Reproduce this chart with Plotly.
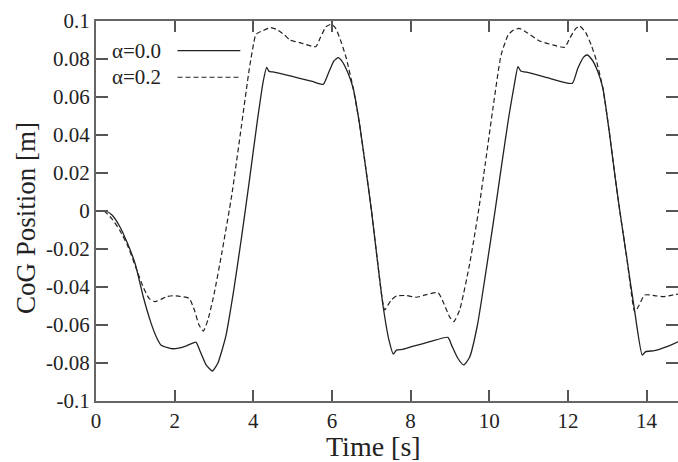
import plotly.graph_objects as go

# ---- data ----
t_a00 = [0, 0.25, 0.4, 0.6, 0.8, 1.0, 1.2, 1.4, 1.55, 1.65, 1.8, 1.95, 2.1, 2.3, 2.54,
         2.65, 2.8, 2.96, 3.1, 3.3, 3.5, 3.7, 3.9, 4.1, 4.25, 4.34, 4.4, 4.5, 4.8, 5.18,
         5.5, 5.78, 5.9, 6.05, 6.16, 6.25, 6.4, 6.54, 6.7, 6.85, 7.0, 7.15, 7.3, 7.45,
         7.56, 7.64, 7.8, 8.1, 8.49, 8.95, 9.05, 9.2, 9.35, 9.5, 9.7, 9.9, 10.14, 10.3,
         10.5, 10.65, 10.73, 10.8, 11.0, 11.54, 12.11, 12.25, 12.4, 12.49, 12.6, 12.75,
         12.89, 13.05, 13.2, 13.32, 13.5, 13.7, 13.89, 13.98, 14.2, 14.5, 14.8]
y_a00 = [0, 0, -0.002, -0.008, -0.017, -0.028, -0.045, -0.059, -0.067, -0.0705, -0.0718,
         -0.0725, -0.0722, -0.071, -0.069, -0.074, -0.081, -0.0842, -0.080, -0.066, -0.042,
         -0.014, 0.016, 0.047, 0.068, 0.0756, 0.0735, 0.0732, 0.0718, 0.0698, 0.0682,
         0.0667, 0.072, 0.079, 0.0807, 0.079, 0.073, 0.0646, 0.046, 0.024, 0.001, -0.025,
         -0.050, -0.068, -0.0753, -0.0732, -0.0728, -0.071, -0.0688, -0.0665, -0.071,
         -0.0775, -0.081, -0.077, -0.060, -0.034, -0.001, 0.022, 0.050, 0.068, 0.076,
         0.0737, 0.0728, 0.0698, 0.0672, 0.075, 0.081, 0.0821, 0.080, 0.074, 0.0646, 0.042,
         0.018, 0.0, -0.025, -0.053, -0.0758, -0.074, -0.0735, -0.0715, -0.0688]

t_a02 = [0, 0.2, 0.4, 0.6, 0.8, 1.0, 1.2, 1.35, 1.5, 1.65, 1.8, 1.97, 2.15, 2.37, 2.5,
         2.62, 2.73, 2.85, 3.0, 3.2, 3.45, 3.7, 3.9, 4.05, 4.1, 4.25, 4.44, 4.6, 4.8, 4.93,
         5.2, 5.59, 5.7, 5.85, 5.99, 6.1, 6.25, 6.37, 6.54, 6.7, 6.85, 7.0, 7.15, 7.34, 7.5,
         7.64, 7.9, 8.15, 8.4, 8.7, 8.85, 9.0, 9.1, 9.25, 9.5, 9.72, 9.9, 10.1, 10.3, 10.48,
         10.6, 10.76, 10.95, 11.28, 11.6, 11.92, 12.05, 12.2, 12.3, 12.45, 12.6, 12.72,
         12.89, 13.05, 13.2, 13.32, 13.5, 13.7, 13.8, 13.95, 14.2, 14.42, 14.6, 14.8]
y_a02 = [0, 0, -0.004, -0.010, -0.018, -0.029, -0.040, -0.046, -0.0477, -0.0465, -0.045,
         -0.0446, -0.045, -0.046, -0.052, -0.060, -0.0632, -0.057, -0.044, -0.022, 0.008,
         0.045, 0.075, 0.092, 0.0935, 0.095, 0.0965, 0.0955, 0.0925, 0.090, 0.0885, 0.0865,
         0.091, 0.097, 0.0983, 0.096, 0.088, 0.080, 0.0646, 0.046, 0.024, 0.001, -0.025,
         -0.052, -0.047, -0.0447, -0.0445, -0.0454, -0.044, -0.043, -0.049, -0.056, -0.0582,
         -0.052, -0.028, -0.001, 0.025, 0.055, 0.082, 0.0926, 0.095, 0.0961, 0.094, 0.0895,
         0.0875, 0.0862, 0.091, 0.096, 0.0974, 0.094, 0.087, 0.0795, 0.0646, 0.042, 0.018,
         0.0, -0.025, -0.053, -0.050, -0.0442, -0.0445, -0.0451, -0.0445, -0.0437]

series_names = ["α=0.0", "α=0.2"]
x_tick_vals = [0, 2, 4, 6, 8, 10, 12, 14]
y_tick_vals = [0.1, 0.08, 0.06, 0.04, 0.02, 0, -0.02, -0.04, -0.06, -0.08, -0.1]
y_tick_text = ["0.1", "0.08", "0.06", "0.04", "0.02", "0", "-0.02", "-0.04", "-0.06",
               "-0.08", "-0.1"]
x_title = "Time [s]"
y_title = "CoG Position [m]"

FONT = "Liberation Serif"
INK = "#222222"

fig = go.Figure()
fig.add_trace(go.Scatter(x=t_a00, y=y_a00, mode="lines", name=series_names[0],
                         line=dict(color=INK, width=1.3, shape="spline", smoothing=0.5),
                         showlegend=False))
fig.add_trace(go.Scatter(x=t_a02, y=y_a02, mode="lines", name=series_names[1],
                         line=dict(color=INK, width=1.2, dash="5px,3px", shape="spline",
                                   smoothing=0.5),
                         showlegend=False))

# legend drawn as text followed by a line sample (text-first style of the reference)
leg_rows = [(0.922, "solid"), (0.852, "5px,3px")]
for (yy, dsh), nm in zip(leg_rows, series_names):
    fig.add_annotation(xref="paper", yref="paper", x=0.024, y=yy, text=nm,
                       showarrow=False, xanchor="left", yanchor="middle",
                       font=dict(family=FONT, size=21, color=INK))
    fig.add_shape(type="line", xref="paper", yref="paper", x0=0.140, x1=0.248,
                  y0=yy, y1=yy, line=dict(color=INK, width=1.2, dash=dsh))

# axis titles
fig.add_annotation(xref="paper", yref="paper", x=0.477, y=-0.121, text=x_title,
                   showarrow=False, xanchor="center", yanchor="middle",
                   font=dict(family=FONT, size=28, color=INK))
fig.add_annotation(xref="paper", yref="paper", x=-0.120, y=0.482, text=y_title,
                   showarrow=False, xanchor="center", yanchor="middle", textangle=-90,
                   font=dict(family=FONT, size=27, color=INK))

axis_common = dict(showgrid=False, zeroline=False, showline=True, linecolor="#666666",
                   linewidth=2, mirror="ticks", ticks="inside", tickcolor="#555555",
                   tickwidth=1.5, automargin=False,
                   tickfont=dict(family=FONT, size=21, color=INK))

fig.update_xaxes(range=[0, 14.8], tickvals=x_tick_vals, ticklen=11, **axis_common)
fig.update_yaxes(range=[-0.1, 0.1], tickvals=y_tick_vals, ticktext=y_tick_text, ticklen=12,
                 **axis_common)

fig.update_layout(width=678, height=462, margin=dict(l=96, r=0, t=21, b=61),
                  paper_bgcolor="white", plot_bgcolor="white",
                  font=dict(family=FONT, color=INK))

# remove the browser's default page margin so the figure sits at the window's corner
fig.write_html("out.html", config={"displayModeBar": False},
               post_script="document.body.style.margin='0';document.body.style.padding='0';")
